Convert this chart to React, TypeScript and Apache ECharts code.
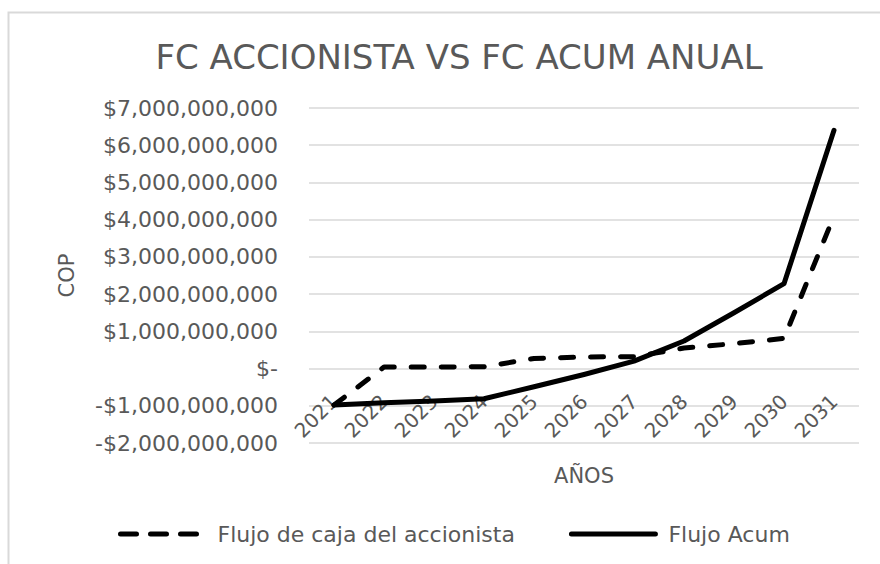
import React, { useEffect, useRef } from "react";
import * as echarts from "echarts";

const categories = ["2021", "2022", "2023", "2024", "2025", "2026", "2027", "2028", "2029", "2030", "2031"];
const flujoAccionista = [
  -980000000, 40000000, 40000000, 50000000, 270000000, 310000000, 320000000, 550000000, 670000000, 810000000, 4100000000,
];
const flujoAcum = [
  -980000000, -920000000, -870000000, -810000000, -490000000, -160000000, 200000000, 740000000, 1500000000, 2280000000, 6400000000,
];
const seriesNames = ["Flujo de caja del accionista", "Flujo Acum"];
const titleText = "FC ACCIONISTA VS FC ACUM ANUAL";

const FONT = "DejaVu Sans";
const GREY = "#595959";

function fmt(v: number): string {
  if (v === 0) return "$-";
  const s = Math.abs(v).toLocaleString("en-US");
  return (v < 0 ? "-$" : "$") + s;
}

export default function App() {
  const ref = useRef<HTMLDivElement>(null);
  useEffect(() => {
    if (!ref.current) return;
    const chart = echarts.init(ref.current, null, { renderer: "svg" });
    chart.setOption({
      animation: false,
      backgroundColor: "#ffffff",
      title: {
        text: titleText,
        left: 454,
        textAlign: "center",
        top: 35,
        textStyle: { fontFamily: FONT, fontSize: 34, fontWeight: "normal", color: GREY },
      },
      graphic: [
        {
          type: "rect",
          shape: { x: 8.5, y: 12.5, width: 900, height: 600 },
          style: { fill: "none", stroke: "#d9d9d9", lineWidth: 2 },
          silent: true,
        },
      ],
      legend: {
        left: 113,
        top: 518,
        itemWidth: 84,
        itemHeight: 14,
        itemGap: 54,
        itemStyle: { opacity: 0, borderWidth: 0 },
        lineStyle: { width: 5, cap: "round" },
        textStyle: { fontFamily: FONT, fontSize: 22, color: GREY, padding: [0, 0, 0, 8] },
        data: [
          { name: seriesNames[0], lineStyle: { width: 5, cap: "round", type: [16, 14] } },
          { name: seriesNames[1], lineStyle: { width: 5, cap: "round" } },
        ],
      },
      grid: { left: 309, right: 21, top: 108, bottom: 121 },
      xAxis: {
        type: "category",
        data: categories,
        boundaryGap: true,
        offset: -75,
        name: "AÑOS",
        nameLocation: "middle",
        nameGap: 97,
        nameTextStyle: { fontFamily: FONT, fontSize: 21, color: GREY },
        axisLine: { show: false, onZero: false },
        axisTick: { show: false },
        axisLabel: { rotate: 45, margin: 30, fontFamily: FONT, fontSize: 20, color: GREY },
      },
      yAxis: {
        type: "value",
        min: -2000000000,
        max: 7000000000,
        interval: 1000000000,
        name: "COP",
        nameLocation: "middle",
        nameRotate: 90,
        nameGap: 232,
        nameTextStyle: { fontFamily: FONT, fontSize: 21, color: GREY },
        axisLine: { show: false },
        axisTick: { show: false },
        axisLabel: { margin: 31, fontFamily: FONT, fontSize: 22, color: GREY, formatter: fmt },
        splitLine: { lineStyle: { color: "#d9d9d9", width: 1.5 } },
      },
      series: [
        {
          name: seriesNames[0],
          type: "line",
          data: flujoAccionista,
          symbol: "none",
          lineStyle: { color: "#000000", width: 5, type: [13, 17], cap: "round", join: "round" },
          itemStyle: { color: "#000000" },
          z: 3,
        },
        {
          name: seriesNames[1],
          type: "line",
          data: flujoAcum,
          symbol: "none",
          lineStyle: { color: "#000000", width: 5, cap: "round", join: "round" },
          itemStyle: { color: "#000000" },
          z: 2,
        },
      ],
    });
    return () => chart.dispose();
  }, []);
  return (
    <div
      ref={ref}
      style={{ position: "absolute", left: 0, top: 0, width: 880, height: 564 }}
    />
  );
}
